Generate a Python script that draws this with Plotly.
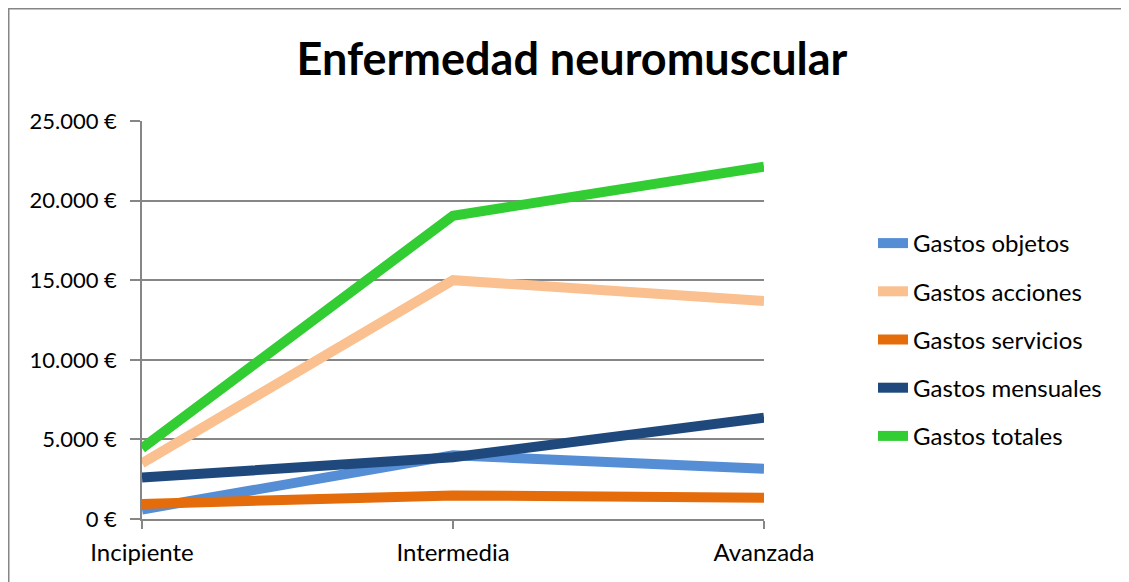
import plotly.graph_objects as go

# data
etapas = ['Incipiente', 'Intermedia', 'Avanzada']
gastos_objetos = [600, 4000, 3150]
gastos_acciones = [3500, 15000, 13700]
gastos_servicios = [950, 1480, 1340]
gastos_mensuales = [2600, 3880, 6370]
gastos_totales = [4450, 19050, 22130]

y_ticks = [0, 5000, 10000, 15000, 20000, 25000]
y_labels = ['0 €', '5.000 €', '10.000 €', '15.000 €', '20.000 €', '25.000 €']

series = [
    ('Gastos objetos', gastos_objetos, '#558ED5'),
    ('Gastos acciones', gastos_acciones, '#FAC090'),
    ('Gastos servicios', gastos_servicios, '#E46C0A'),
    ('Gastos mensuales', gastos_mensuales, '#1F497D'),
    ('Gastos totales', gastos_totales, '#32CD32'),
]

fig = go.Figure()
for name, vals, col in series:
    fig.add_trace(go.Scatter(x=etapas, y=vals, name=name, mode='lines',
                             legendgroup=name,
                             line=dict(color=col, width=10)))

# page body has an 8px margin, so the figure sits at (8, 8) on screen
OFF = 8
W, H = 1129 - OFF, 582 - OFF
L, T = 142 - OFF, 121 - OFF
R, B = W - (764 - OFF), H - (519 - OFF)
pw, ph = W - L - R, H - T - B

# screen px -> paper coords
def px_x(p):
    return (p - OFF - L) / pw

def px_y(p):
    return (H - B - (p - OFF)) / ph

# outer chart border
fig.add_shape(type='rect', xref='paper', yref='paper',
              x0=px_x(8.75), x1=px_x(1150), y0=px_y(600), y1=px_y(8.75),
              line=dict(color='#868686', width=1.5), fillcolor='rgba(0,0,0,0)')

fig.update_layout(
    width=W, height=H,
    margin=dict(l=L, r=R, t=T, b=B),
    paper_bgcolor='white', plot_bgcolor='white',
    font=dict(family='Lato, Open Sans, sans-serif', color='black'),
    title=dict(text='<b>Enfermedad neuromuscular</b>', x=(572 - OFF) / W,
               xanchor='center', y=1 - (59 - OFF) / H, yanchor='middle',
               font=dict(size=45, color='black')),
    legend=dict(x=px_x(873), y=px_y(221), xanchor='left', yanchor='top',
                font=dict(size=24), traceorder='grouped', tracegroupgap=14,
                itemwidth=30, bgcolor='rgba(0,0,0,0)'),
    showlegend=True,
)
fig.update_xaxes(type='category', range=[0, 2], showgrid=False,
                 showline=True, linecolor='#868686', linewidth=1.5,
                 ticks='outside', ticklen=8, tickcolor='#868686', tickwidth=1.5,
                 tickfont=dict(size=24), ticklabelstandoff=3)
fig.update_yaxes(range=[0, 25000], tickvals=y_ticks, ticktext=y_labels,
                 showgrid=True, gridcolor='#868686', gridwidth=1.5,
                 showline=True, linecolor='#868686', linewidth=1.5,
                 ticks='outside', ticklen=10, tickcolor='#868686', tickwidth=1.5,
                 tickfont=dict(size=22), ticklabelstandoff=9, zeroline=False)

fig.write_html('out.html')
